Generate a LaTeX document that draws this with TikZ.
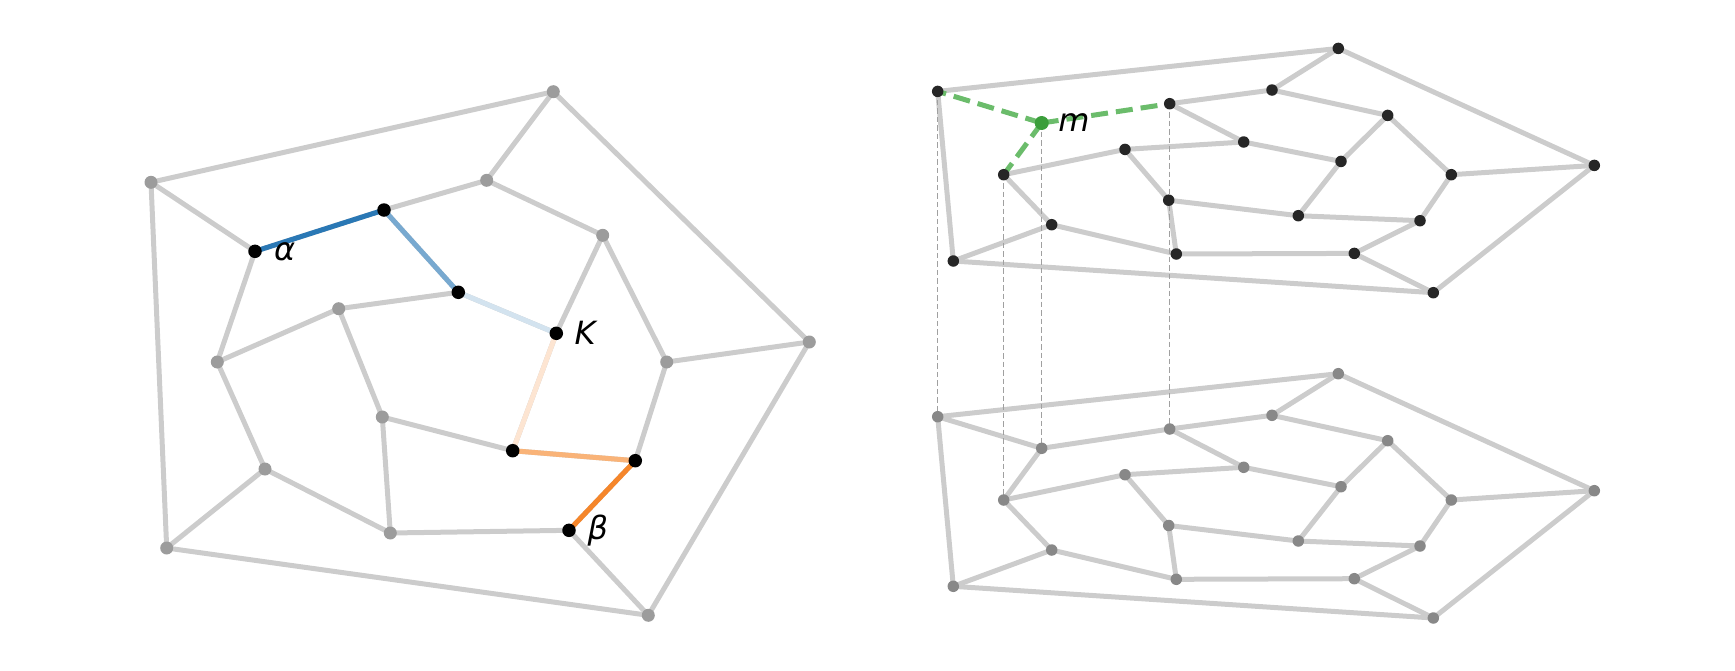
\documentclass[tikz,border=0pt]{standalone}
\usepackage{fontspec}
\newfontfamily\dvs{DejaVu Sans}
\definecolor{edgegray}{HTML}{CCCCCC}
\definecolor{lgray}{HTML}{9C9C9C}
\definecolor{rgray}{HTML}{888888}
\definecolor{topdot}{HTML}{262626}
\definecolor{vdash}{HTML}{A0A0A0}
\definecolor{gline}{HTML}{6BBC6B}
\definecolor{gdot}{HTML}{3B9E3B}
\definecolor{cA}{HTML}{2A78B5}
\definecolor{cB}{HTML}{78A9D0}
\definecolor{cC}{HTML}{D3E3EF}
\definecolor{cD}{HTML}{FDE5D2}
\definecolor{cE}{HTML}{F9B378}
\definecolor{cF}{HTML}{F5862B}
\tikzset{
  gedge/.style={draw=edgegray, line width=5pt},
  pathedge/.style={line width=5pt},
  greendash/.style={draw=gline, line width=5pt, dash pattern=on 17pt off 8pt},
  vdashed/.style={draw=vdash, line width=1.5pt, dash pattern=on 5.5pt off 3pt},
  ldot/.style={circle, fill=lgray, inner sep=0pt, minimum size=13pt},
  blackdot/.style={circle, fill=black, inner sep=0pt, minimum size=13.5pt},
  bdot/.style={circle, fill=rgray, inner sep=0pt, minimum size=11.5pt},
  tdot/.style={circle, fill=topdot, inner sep=0pt, minimum size=11.5pt},
  mdot/.style={circle, fill=gdot, inner sep=0pt, minimum size=14pt},
  lab/.style={anchor=west, inner sep=0pt, font=\dvs\itshape\fontsize{32}{38}\selectfont}
}
\begin{document}
\begin{tikzpicture}[x=1pt,y=-1pt]
\useasboundingbox (0,0) rectangle (1735,670);
% ---------- left graph coordinates ----------
\foreach \n/\x/\y in {O1/151/182.3, O2/553.3/91.7, O3/809.3/342, O4/648.3/615.3, O5/166.7/548,
  R1/255/251.3, R2/384/210, R3/486.7/180.3, R4/602.7/235.3, R5/666.7/362,
  R6/635.3/460.7, R7/569/530.3, R8/390.3/533, R9/265/469, R10/217.3/362,
  I1/338.7/308.7, I2/458.3/292.3, I3/556.3/333.3, I4/512.7/450.7, I5/382.3/417}
  {\coordinate (L\n) at (\x,\y);}
% ---------- right graph coordinates ----------
\foreach \n/\x/\y in {1/937.7/416.7, 2/1338.3/373.7, 3/1594.3/490.7, 4/1433.3/618, 5/953.3/586.3,
  6/1041.7/448.3, 7/1169.7/429, 8/1272/415.3, 9/1387.7/440.7, 10/1451.3/500,
  11/1420/546, 12/1354.3/578.7, 13/1176.3/579.3, 14/1051.7/550, 15/1003.7/500,
  16/1125/474.7, 17/1243.7/467.3, 18/1341/486.7, 19/1298.3/541, 20/1168.7/525.5}
  {\coordinate (b\n) at (\x,\y); \coordinate (t\n) at (\x,\y-325.3);}
% ---------- left gray edges ----------
\foreach \a/\b in {O1/O2,O2/O3,O3/O4,O4/O5,O5/O1,
  O1/R1,O2/R3,O3/R5,O4/R7,O5/R9,
  R1/R2,R2/R3,R3/R4,R4/R5,R5/R6,R6/R7,R7/R8,R8/R9,R9/R10,R10/R1,
  R2/I2,R4/I3,R6/I4,R8/I5,R10/I1,
  I1/I2,I2/I3,I3/I4,I4/I5,I5/I1}
  {\draw[gedge] (L\a) -- (L\b);}
% ---------- left coloured path ----------
\draw[pathedge, cA] (LR1) -- (LR2);
\draw[pathedge, cB] (LR2) -- (LI2);
\draw[pathedge, cC] (LI2) -- (LI3);
\draw[pathedge, cD] (LI3) -- (LI4);
\draw[pathedge, cE] (LI4) -- (LR6);
\draw[pathedge, cF] (LR6) -- (LR7);
% ---------- right gray edges ----------
\foreach \a/\b in {1/2,2/3,3/4,4/5,5/1,
  1/6,2/8,3/10,4/12,5/14,
  6/7,7/8,8/9,9/10,10/11,11/12,12/13,13/14,14/15,15/6,
  7/17,9/18,11/19,13/20,15/16,
  16/17,17/18,18/19,19/20,20/16}
  {\draw[gedge] (b\a) -- (b\b);}
\foreach \a/\b in {1/2,2/3,3/4,4/5,5/1,
  2/8,3/10,4/12,5/14,
  7/8,8/9,9/10,10/11,11/12,12/13,13/14,14/15,
  7/17,9/18,11/19,13/20,15/16,
  16/17,17/18,18/19,19/20,20/16}
  {\draw[gedge] (t\a) -- (t\b);}
% vertical dashed links
\foreach \n in {1,6,15,7}
  {\draw[vdashed] (t\n) -- (b\n);}
% green dashed edges
\draw[greendash] (t6) -- (t1);
\draw[greendash] (t6) -- (t7);
\draw[greendash] (t6) -- (t15);
% ---------- dots ----------
\foreach \n in {O1,O2,O3,O4,O5,R3,R4,R5,R8,R9,R10,I1,I5}
  {\node[ldot] (N\n) at (L\n) {};}
\foreach \n in {R1,R2,I2,I3,I4,R6,R7}
  {\node[blackdot] (N\n) at (L\n) {};}
\foreach \n in {1,2,...,20}
  {\node[bdot] (B\n) at (b\n) {};}
\foreach \n in {1,2,3,4,5,7,8,9,10,11,12,13,14,15,16,17,18,19,20}
  {\node[tdot] (T\n) at (t\n) {};}
\node[mdot] (T6) at (t6) {};
% ---------- labels ----------
\node[lab] (labA) at ([xshift=19pt]LR1) {α};
\node[lab] (labK) at ([xshift=18pt]LI3) {K};
\node[lab] (labB) at ([xshift=18.5pt]LR7) {β};
\node[lab] (labM) at ([xshift=16.5pt]t6) {m};
\end{tikzpicture}
\end{document}
